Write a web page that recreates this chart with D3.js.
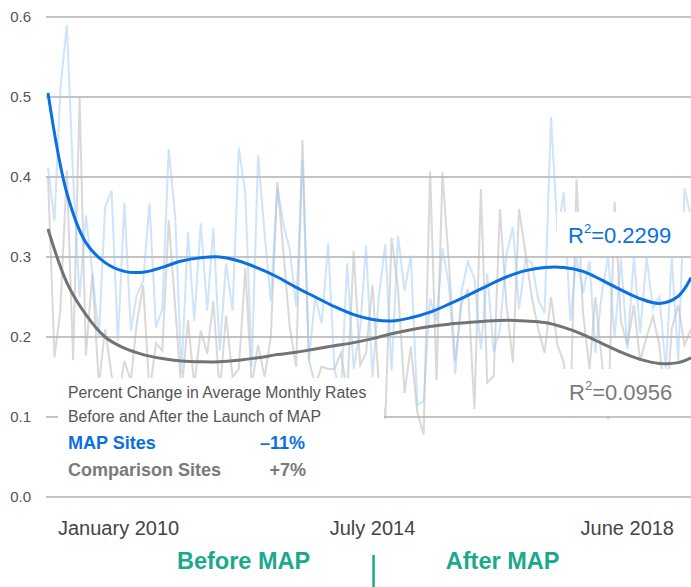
<!DOCTYPE html>
<html>
<head>
<meta charset="utf-8">
<script src="https://cdn.jsdelivr.net/npm/d3@7"></script>
<style>
  body { margin: 0; background: #fff; }
  svg { display: block; font-family: "Liberation Sans", Arial, sans-serif; }
</style>
</head>
<body>
<div class="board"></div>
<script>
var WIDTH = 691;
var HEIGHT = 587;

// monthly rates, January 2010 .. June 2018
var startMonth = new Date(2010, 0, 1);
var mapRates = [
  0.412, 0.345, 0.51, 0.59, 0.40, 0.25, 0.352, 0.28, 0.20, 0.362,
  0.383, 0.194, 0.367, 0.208, 0.252, 0.27, 0.367, 0.212, 0.235, 0.435,
  0.35, 0.154, 0.331, 0.22, 0.342, 0.233, 0.336, 0.183, 0.292, 0.233,
  0.436, 0.379, 0.163, 0.427, 0.33, 0.245, 0.388, 0.338, 0.31, 0.238,
  0.421, 0.171, 0.25, 0.217, 0.317, 0.159, 0.13, 0.292, 0.16, 0.21,
  0.314, 0.15, 0.25, 0.316, 0.158, 0.326, 0.258, 0.302, 0.115, 0.12,
  0.248, 0.22, 0.311, 0.265, 0.154, 0.258, 0.294, 0.273, 0.185, 0.28,
  0.182, 0.21, 0.303, 0.337, 0.235, 0.297, 0.293, 0.247, 0.23, 0.475,
  0.33, 0.381, 0.22, 0.30, 0.255, 0.295, 0.18, 0.255, 0.30, 0.20,
  0.298, 0.185, 0.30, 0.205, 0.30, 0.235, 0.25, 0.16, 0.30, 0.17,
  0.386, 0.35
];
var comparisonRates = [
  0.40, 0.175, 0.233, 0.408, 0.171, 0.50, 0.177, 0.279, 0.14, 0.21,
  0.152, 0.12, 0.17, 0.145, 0.217, 0.265, 0.13, 0.192, 0.183, 0.346,
  0.237, 0.13, 0.221, 0.14, 0.208, 0.179, 0.245, 0.13, 0.227, 0.15,
  0.16, 0.286, 0.14, 0.19, 0.15, 0.20, 0.394, 0.30, 0.213, 0.163,
  0.446, 0.171, 0.14, 0.163, 0.16, 0.16, 0.18, 0.13, 0.307, 0.165,
  0.18, 0.265, 0.14, 0.098, 0.324, 0.26, 0.13, 0.188, 0.106, 0.078,
  0.407, 0.146, 0.406, 0.292, 0.17, 0.242, 0.26, 0.11, 0.385, 0.143,
  0.151, 0.36, 0.24, 0.168, 0.36, 0.305, 0.25, 0.21, 0.18, 0.25,
  0.19, 0.168, 0.10, 0.397, 0.23, 0.16, 0.25, 0.17, 0.097, 0.369,
  0.22, 0.19, 0.24, 0.17, 0.20, 0.226, 0.19, 0.103, 0.21, 0.24,
  0.19, 0.21
];

// fitted trend, read every 3 months (plus the last month)
var trendMonths = [0, 3, 6, 9, 12, 15, 18, 21, 24, 27, 30, 33, 36, 39, 42, 45, 48, 51,
  54, 57, 60, 63, 66, 69, 72, 75, 78, 81, 84, 87, 90, 93, 96, 99, 101];
var mapTrend = [0.505, 0.38, 0.318, 0.293, 0.282, 0.281, 0.287, 0.295, 0.299, 0.30,
  0.295, 0.286, 0.275, 0.262, 0.25, 0.238, 0.228, 0.222, 0.22, 0.224,
  0.231, 0.241, 0.252, 0.264, 0.275, 0.283, 0.287, 0.287, 0.282, 0.271,
  0.259, 0.248, 0.242, 0.251, 0.274];
var comparisonTrend = [0.335, 0.268, 0.228, 0.2, 0.186, 0.178, 0.173, 0.17, 0.169, 0.169,
  0.171, 0.174, 0.178, 0.181, 0.185, 0.189, 0.193, 0.198, 0.204, 0.209,
  0.213, 0.216, 0.218, 0.22, 0.221, 0.22, 0.218, 0.212, 0.203, 0.192,
  0.181, 0.172, 0.167, 0.168, 0.174];

var yTicks = [0, 0.1, 0.2, 0.3, 0.4, 0.5, 0.6];
var xLabels = ['January 2010', 'July 2014', 'June 2018'];
var xLabelDates = [new Date(2010, 0, 1), new Date(2014, 6, 1), new Date(2018, 5, 1)];
var launchDate = new Date(2014, 6, 1);

var BLUE = '#0b6fe4';
var GREY = '#737373';
var TEAL = '#19a98b';

var months = mapRates.map(function(d, i) { return d3.timeMonth.offset(startMonth, i); });

var x = d3.scaleTime()
  .domain([months[0], months[months.length - 1]])
  .range([48, 691]);
var y = d3.scaleLinear().domain([0, 0.6]).range([497, 17]);

var svg = d3.select('.board')
  .append('svg')
  .attr('width', WIDTH)
  .attr('height', HEIGHT);

// grid
svg.append('g')
  .selectAll('line')
  .data(yTicks)
  .enter()
  .append('line')
  .attr('x1', 46)
  .attr('x2', WIDTH)
  .attr('y1', function(d) { return y(d); })
  .attr('y2', function(d) { return y(d); })
  .attr('stroke', '#8a8a8a')
  .attr('stroke-width', 1.2);

svg.append('g')
  .selectAll('text')
  .data(yTicks)
  .enter()
  .append('text')
  .attr('x', 31)
  .attr('y', function(d) { return y(d); })
  .attr('dy', '0.35em')
  .attr('text-anchor', 'end')
  .attr('font-size', 15)
  .attr('fill', '#555')
  .text(function(d) { return d.toFixed(1); });

var rawLine = d3.line()
  .x(function(d, i) { return x(months[i]); })
  .y(function(d) { return y(d); });

svg.append('path')
  .attr('d', rawLine(comparisonRates))
  .attr('fill', 'none')
  .attr('stroke', '#b3b3b3')
  .attr('stroke-opacity', 0.5)
  .attr('stroke-width', 2);

svg.append('path')
  .attr('d', rawLine(mapRates))
  .attr('fill', 'none')
  .attr('stroke', '#9ccaf5')
  .attr('stroke-opacity', 0.5)
  .attr('stroke-width', 2);

var trendLine = d3.line()
  .curve(d3.curveCatmullRom.alpha(0.5))
  .x(function(d, i) { return x(d3.timeMonth.offset(startMonth, trendMonths[i])); })
  .y(function(d) { return y(d); });

svg.append('path')
  .attr('d', trendLine(comparisonTrend))
  .attr('fill', 'none')
  .attr('stroke', GREY)
  .attr('stroke-width', 3);

svg.append('path')
  .attr('d', trendLine(mapTrend))
  .attr('fill', 'none')
  .attr('stroke', BLUE)
  .attr('stroke-width', 3);

// white label boxes
svg.append('rect').attr('x', 58).attr('y', 378).attr('width', 326).attr('height', 112).attr('fill', '#fff');
svg.append('rect').attr('x', 557).attr('y', 212).attr('width', 134).attr('height', 44).attr('fill', '#fff');
svg.append('rect').attr('x', 562).attr('y', 369).attr('width', 129).attr('height', 47).attr('fill', '#fff');

var r2 = function(xPos, yPos, value, colour) {
  var t = svg.append('text')
    .attr('x', xPos)
    .attr('y', yPos)
    .attr('font-size', 22)
    .attr('fill', colour);
  t.append('tspan').text('R');
  t.append('tspan').attr('dy', -10).attr('font-size', 13).text('2');
  t.append('tspan').attr('dy', 10).text('=' + value);
};
r2(568, 243, '0.2299', BLUE);
r2(569, 400, '0.0956', '#7a7a7a');

// legend
svg.append('text').attr('x', 68).attr('y', 398).attr('font-size', 15.8).attr('fill', '#555')
  .text('Percent Change in Average Monthly Rates');
svg.append('text').attr('x', 68).attr('y', 422).attr('font-size', 15.8).attr('fill', '#555')
  .text('Before and After the Launch of MAP');
svg.append('text').attr('x', 68).attr('y', 449).attr('font-size', 18).attr('font-weight', 'bold').attr('fill', BLUE)
  .text('MAP Sites');
svg.append('text').attr('x', 305).attr('y', 449).attr('font-size', 18).attr('font-weight', 'bold').attr('fill', BLUE)
  .attr('text-anchor', 'end').text('\u201311%');
svg.append('text').attr('x', 68).attr('y', 476).attr('font-size', 18).attr('font-weight', 'bold').attr('fill', '#7a7a7a')
  .text('Comparison Sites');
svg.append('text').attr('x', 306).attr('y', 476).attr('font-size', 18).attr('font-weight', 'bold').attr('fill', '#7a7a7a')
  .attr('text-anchor', 'end').text('+7%');

// x labels
var anchors = ['start', 'middle', 'end'];
var nudges = [10, -19, -17];
svg.append('g')
  .selectAll('text')
  .data(xLabels)
  .enter()
  .append('text')
  .attr('x', function(d, i) { return x(xLabelDates[i]) + nudges[i]; })
  .attr('y', 535)
  .attr('text-anchor', function(d, i) { return anchors[i]; })
  .attr('font-size', 20)
  .attr('fill', '#444')
  .text(function(d) { return d; });

var launchX = x(launchDate) - 18;
svg.append('line')
  .attr('x1', launchX).attr('x2', launchX)
  .attr('y1', 555).attr('y2', HEIGHT)
  .attr('stroke', TEAL)
  .attr('stroke-width', 2.5);
svg.append('text').attr('x', launchX - 130).attr('y', 569).attr('text-anchor', 'middle')
  .attr('font-size', 23.5).attr('font-weight', 'bold').attr('fill', TEAL).text('Before MAP');
svg.append('text').attr('x', launchX + 129).attr('y', 569).attr('text-anchor', 'middle')
  .attr('font-size', 23.5).attr('font-weight', 'bold').attr('fill', TEAL).text('After MAP');
</script>
</body>
</html>
